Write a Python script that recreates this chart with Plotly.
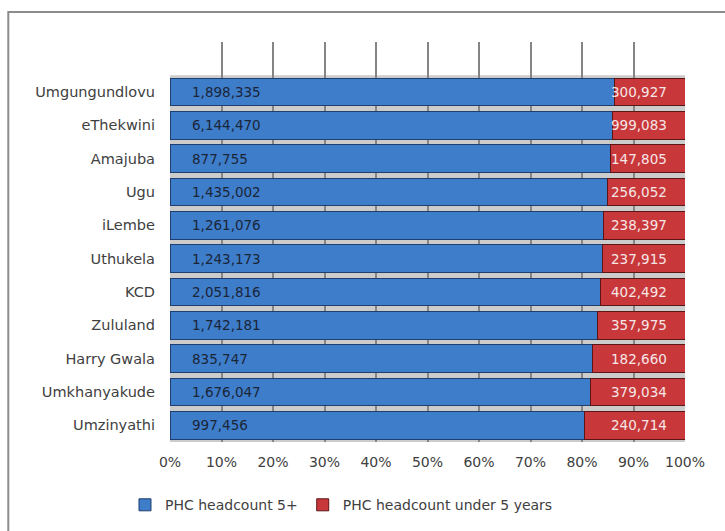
import plotly.graph_objects as go

# District names, listed bottom-to-top as drawn on the category axis
districts = ["Umzinyathi", "Umkhanyakude", "Harry Gwala", "Zululand", "KCD",
             "Uthukela", "iLembe", "Ugu", "Amajuba", "eThekwini", "Umgungundlovu"]
headcount_5plus = [997456, 1676047, 835747, 1742181, 2051816,
                   1243173, 1261076, 1435002, 877755, 6144470, 1898335]
headcount_under5 = [240714, 379034, 182660, 357975, 402492,
                    237915, 238397, 256052, 147805, 999083, 300927]
tick_values = [0, 10, 20, 30, 40, 50, 60, 70, 80, 90, 100]
tick_labels = [f"{v}%" for v in tick_values]

FONT = "Century Gothic, DejaVu Sans, sans-serif"
TXT = "#404040"

fig = go.Figure()
fig.add_trace(go.Bar(
    y=districts, x=headcount_5plus, orientation="h",
    name="PHC headcount 5+",
    marker=dict(color="#3d7dca", line=dict(color="#1f3f6e", width=1)),
    hoverinfo="skip",
))
fig.add_trace(go.Bar(
    y=districts, x=headcount_under5, orientation="h",
    name="PHC headcount under 5 years",
    marker=dict(color="#c8383b", line=dict(color="#5c1515", width=1)),
    hoverinfo="skip",
))

# value labels: 5+ counts pinned near the bar start, under-5 counts near the end
annotations = []
for name, a, b in zip(districts, headcount_5plus, headcount_under5):
    annotations.append(dict(x=0, y=name, xref="x", yref="y", text=f"{a:,}",
                            showarrow=False, xanchor="left", xshift=20,
                            font=dict(size=13.5, color="#1b2538", family=FONT)))
    annotations.append(dict(x=100, y=name, xref="x", yref="y", text=f"{b:,}",
                            showarrow=False, xanchor="right", xshift=-16,
                            font=dict(size=13.5, color="#f6e6e6", family=FONT)))

n = len(districts)
shapes = [
    # grey floor behind the bar band
    dict(type="rect", xref="x", yref="y", x0=0, x1=100, y0=-0.5, y1=n - 0.5,
         fillcolor="#cccccc", line=dict(width=0), layer="below"),
    # outer chart frame
    dict(type="rect", xref="paper", yref="paper", x0=-0.314, x1=1.2,
         y0=-0.5, y1=1.075, line=dict(color="#8c8c8c", width=2),
         fillcolor="rgba(0,0,0,0)", layer="above"),
]

fig.update_layout(
    width=725, height=531,
    barmode="stack", barnorm="percent", bargap=0.17,
    paper_bgcolor="white", plot_bgcolor="white",
    margin=dict(l=170, r=40, t=42, b=89, autoexpand=False),
    font=dict(family=FONT, size=14, color=TXT),
    shapes=shapes, annotations=annotations,
    showlegend=True,
    legend=dict(orientation="h", x=0.333, xanchor="center", y=-0.118, yanchor="top",
                font=dict(size=14, color=TXT, family=FONT),
                traceorder="normal", itemwidth=30),
)
fig.update_xaxes(
    range=[0, 100], tickmode="array", tickvals=tick_values, ticktext=tick_labels,
    showgrid=True, gridcolor="#858585", gridwidth=1.5,
    zeroline=False, showline=False, ticks="", ticklabelstandoff=10,
    tickfont=dict(size=14, color=TXT), layer="below traces",
)
fig.update_yaxes(
    range=[-0.5, n + 0.5], showgrid=False, showline=False, ticks="",
    ticklabelstandoff=14, tickfont=dict(size=14.5, color=TXT),
)

fig.write_html("out.html")
